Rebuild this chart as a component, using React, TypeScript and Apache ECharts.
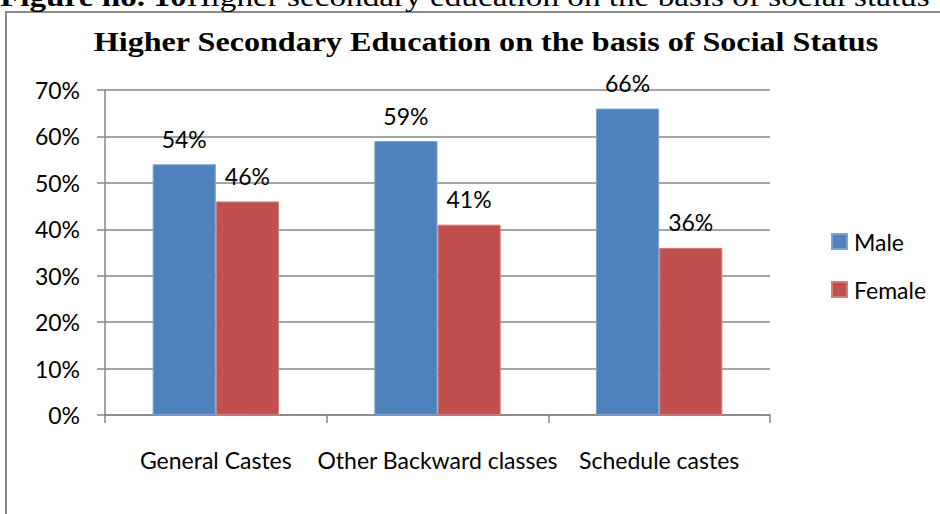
import React, { useEffect, useRef } from "react";
import * as echarts from "echarts";

const categories = ["General Castes", "Other Backward classes", "Schedule castes"];
const maleValues = [54, 59, 66];
const femaleValues = [46, 41, 36];
const yTicks = [0, 10, 20, 30, 40, 50, 60, 70];
const seriesNames = ["Male", "Female"];

const FONT = "Lato, 'Open Sans', sans-serif";

export default function App() {
  const ref = useRef<HTMLDivElement>(null);
  useEffect(() => {
    if (!ref.current) return;
    const chart = echarts.init(ref.current, undefined, { renderer: "svg" });
    const labelStyle = {
      show: true,
      position: "top",
      distance: 14,
      formatter: "{c}%",
      fontSize: 23,
      fontFamily: FONT,
      color: "#000",
    };
    chart.setOption({
      animation: false,
      backgroundColor: "#fff",
      graphic: [
        {
          type: "rect",
          shape: { x: 6, y: 12, width: 960, height: 600 },
          style: { fill: "none", stroke: "#8a8a8a", lineWidth: 2 },
          silent: true,
        },
        {
          type: "text",
          x: 0,
          y: 11,
          scaleX: 1.23,
          style: {
            text: "{b|Figure no. 10}Higher secondary education on the basis of social status",
            font: "27px 'Liberation Serif', serif",
            fill: "#000",
            verticalAlign: "bottom",
            rich: {
              b: { fontWeight: "bold", fontSize: 27, fontFamily: "'Liberation Serif', serif" },
            },
          },
        },
        {
          type: "text",
          x: 486,
          y: 42,
          scaleX: 1.19,
          style: {
            text: "Higher Secondary Education on the basis of Social Status",
            font: "bold 27px 'Liberation Serif', serif",
            fill: "#000",
            align: "center",
            verticalAlign: "middle",
          },
        },
      ],
      legend: {
        orient: "vertical",
        left: 826,
        top: 225,
        itemWidth: 15,
        itemHeight: 15,
        itemGap: 25,
        icon: "rect",
        data: seriesNames,
        textStyle: { fontSize: 23, fontFamily: FONT, color: "#000", padding: [0, 0, 0, 2] },
      },
      grid: { left: 105, right: 170, top: 90, bottom: 99, containLabel: false },
      xAxis: {
        type: "category",
        data: categories,
        boundaryGap: true,
        axisLine: { show: true, lineStyle: { color: "#868686", width: 1.5 } },
        axisTick: { show: true, length: 8, alignWithLabel: false, lineStyle: { color: "#868686", width: 1.5 } },
        axisLabel: { fontSize: 23, fontFamily: FONT, color: "#000", margin: 33, interval: 0 },
      },
      yAxis: {
        type: "value",
        min: yTicks[0],
        max: yTicks[yTicks.length - 1],
        interval: 10,
        axisLine: { show: true, lineStyle: { color: "#868686", width: 1.5 } },
        axisTick: { show: true, length: 8, lineStyle: { color: "#868686", width: 1.5 } },
        splitLine: { show: true, lineStyle: { color: "#868686", width: 1.5 } },
        axisLabel: { fontSize: 23, fontFamily: FONT, color: "#000", margin: 25, formatter: "{value}%" },
      },
      series: [
        {
          name: seriesNames[0],
          type: "bar",
          data: maleValues,
          barGap: "0%",
          barCategoryGap: "43%",
          itemStyle: { color: "#4F81BD", borderColor: "#7FA3D0", borderWidth: 1 },
          label: labelStyle,
        },
        {
          name: seriesNames[1],
          type: "bar",
          data: femaleValues,
          barGap: "0%",
          barCategoryGap: "43%",
          itemStyle: { color: "#C0504D", borderColor: "#D07F7D", borderWidth: 1 },
          label: labelStyle,
        },
      ],
    });
    return () => chart.dispose();
  }, []);
  return (
    <div
      ref={ref}
      style={{ position: "fixed", left: 0, top: 0, width: 940, height: 514, background: "#fff" }}
    />
  );
}
